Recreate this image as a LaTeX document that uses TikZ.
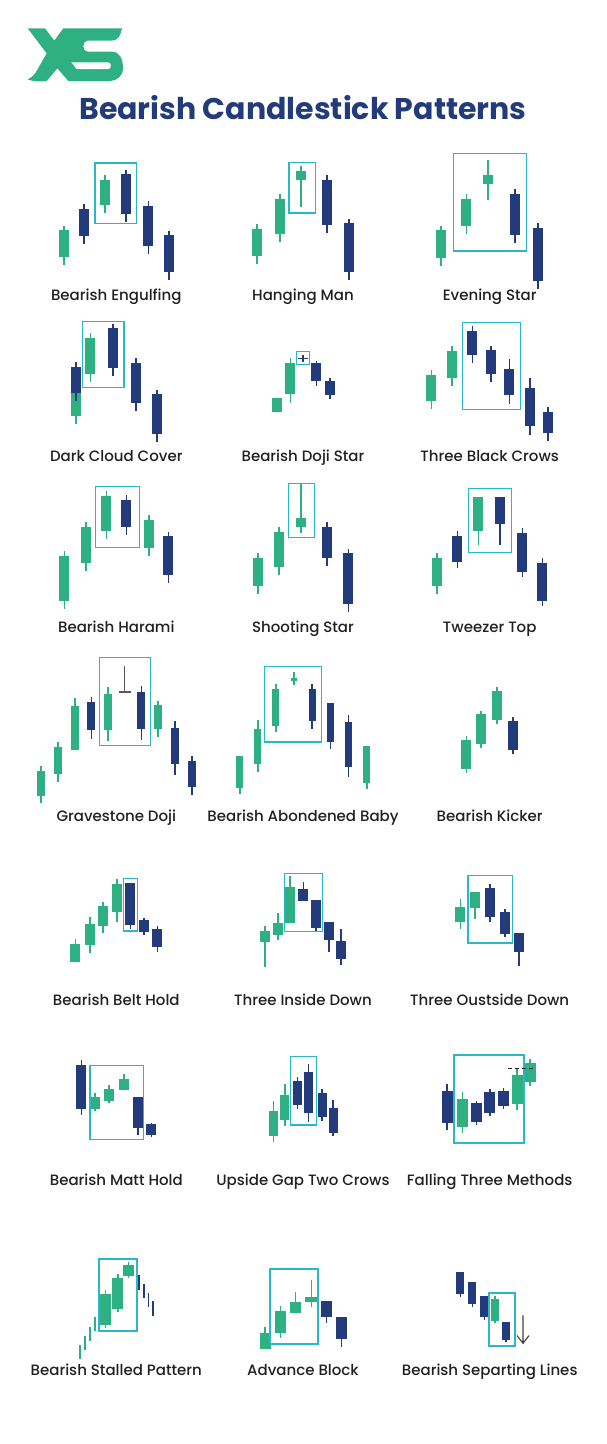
\documentclass[tikz,border=0pt]{standalone}
\usepackage{fontspec}
\setmainfont{Poppins}
\newfontfamily\lblfont{Poppins Medium}
\definecolor{xsgreen}{HTML}{2FB083}
\definecolor{xsnavy}{HTML}{233B7A}
\definecolor{xsteal}{HTML}{2BB8C6}
\definecolor{xstext}{HTML}{231F20}
\tikzset{
 up/.style={fill=xsgreen},
 dn/.style={fill=xsnavy},
 patbox/.style={draw=xsteal,line width=1.1pt},
 patboxb/.style={draw=xsteal,line width=1.8pt},
 lbl/.style={anchor=base,font=\lblfont\fontsize{15}{17}\selectfont,text=xstext,inner sep=0pt},
 ttl/.style={anchor=base,font=\bfseries\fontsize{30}{33}\selectfont,text=xsnavy,inner sep=0pt}
}
% style, x, body top, body bottom, wick top, wick bottom, half width
\newcommand\cdl[7]{\fill[#1] ({#2-0.8},#5) rectangle ({#2+0.8},#6);\fill[#1] ({#2-#7},#3) rectangle ({#2+#7},#4);}
\newcommand\tick[4]{\fill[#1] ({#2-0.8},#3) rectangle ({#2+0.8},#4);}
\begin{document}
\begin{tikzpicture}[x=1pt,y=-1pt]
\useasboundingbox (0,0) rectangle (606,1444);
% logo
\begin{scope}[x=0.33333pt,y=-0.33333pt]
\fill[xsgreen] (83,85) -- (135,85) -- (163,122) -- (190,85) -- (366,85)
  .. controls (362,105) and (355,122) .. (335,122) -- (262,122)
  .. controls (246,122) and (246,155) .. (262,155) -- (335,155)
  .. controls (358,155) and (369,175) .. (369,205)
  .. controls (369,228) and (350,243) .. (330,243) -- (205,243) -- (172,205) -- (140,243)
  .. controls (120,246) and (100,245) .. (83,238)
  .. controls (100,232) and (110,215) .. (120,195) -- (140,160) -- cycle;
\fill[white] (214,187) -- (325,187) .. controls (335,187) and (335,207) .. (325,207) -- (230,207) -- cycle;
\end{scope}
\node[ttl] (title) at (303,119) {Bearish Candlestick Patterns};
% Bearish Engulfing
\cdl{up}{63.7}{230}{257}{226}{265}{5}
\cdl{dn}{84}{208.7}{235.7}{204}{243.7}{5}
\cdl{up}{104.7}{180}{205}{175.3}{213}{5}
\cdl{dn}{125.7}{174}{214}{169.7}{222.3}{5}
\cdl{dn}{148.3}{206}{246}{201}{253.7}{5}
\cdl{dn}{168.7}{235.3}{272.3}{230.7}{280.3}{5}
\draw[patbox] (95,163) rectangle (136.3,223.7);
\node[lbl] (l1) at (116.3,300) {Bearish Engulfing};
% Hanging Man
\cdl{up}{257}{228.7}{255.7}{224}{263.7}{5}
\cdl{up}{279.7}{199}{234}{194}{242}{5}
\cdl{up}{301}{171}{180}{166.3}{207}{5}
\cdl{dn}{327}{180}{225}{175.3}{233}{5}
\cdl{dn}{348.7}{223.3}{272.3}{218.7}{280.3}{5}
\draw[patbox] (289,162.7) rectangle (315.7,213);
\node[lbl] (l2) at (303,300) {Hanging Man};
% Evening Star
\cdl{up}{441}{230.3}{257.7}{225.7}{265.7}{5}
\cdl{up}{466.3}{198.7}{225.7}{194}{234}{5}
\cdl{up}{488}{175.3}{184.3}{160}{199.7}{5}
\cdl{dn}{515}{193.7}{235.3}{189.3}{243.3}{5}
\cdl{dn}{538}{228.3}{281}{223.3}{289}{5}
\draw[patbox] (453.3,153.7) rectangle (526.7,251);
\node[lbl] (l3) at (489.7,300) {Evening Star};
% Dark Cloud Cover
\cdl{up}{76}{393}{416}{393}{424}{5}
\cdl{dn}{76}{366.7}{393.3}{362}{401}{5}
\cdl{up}{90.3}{338}{373.7}{333.3}{381.7}{5}
\cdl{dn}{113}{328.3}{368.3}{324}{376.3}{5}
\cdl{dn}{136}{363}{402.7}{358.3}{410.7}{5}
\cdl{dn}{156.7}{394.3}{434.3}{389.7}{442.3}{5}
\draw[patbox] (82.3,321.7) rectangle (124,387.3);
\node[lbl] (l4) at (116.3,461) {Dark Cloud Cover};
% Bearish Doji Star
\fill[up] (271.7,398.3) rectangle (281.7,412.3);
\cdl{up}{290.3}{363.3}{394}{358.3}{402.7}{5}
\cdl{dn}{303}{357.5}{358.7}{354.5}{362}{4.7}
\cdl{dn}{316.3}{363}{380.7}{361}{385.7}{5}
\cdl{dn}{329.7}{380.7}{395.3}{378.3}{399.3}{5}
\draw[patbox] (296.3,351.7) rectangle (309.7,364.3);
\node[lbl] (l5) at (303,461) {Bearish Doji Star};
% Three Black Crows
\cdl{up}{431.3}{374.7}{401.3}{370.3}{409.3}{5}
\cdl{up}{451.7}{350.7}{377.7}{346}{385.7}{5}
\cdl{dn}{472.3}{330.7}{354.7}{326}{362.7}{5}
\cdl{dn}{491}{350.3}{374}{345.7}{382}{5}
\cdl{dn}{509.3}{368.7}{395.3}{359}{404.3}{5}
\cdl{dn}{530}{388.3}{426}{378.3}{435}{5}
\cdl{dn}{548}{411.7}{433.3}{407.3}{441.3}{5}
\draw[patbox] (462.7,322.3) rectangle (520.7,409.3);
\node[lbl] (l6) at (489.7,461) {Three Black Crows};
% Bearish Harami
\cdl{up}{64.3}{556}{600.7}{551.3}{608.7}{5}
\cdl{up}{85.7}{527}{562.7}{522.3}{570.7}{5}
\cdl{up}{106.3}{495.7}{531.3}{491}{539.3}{5}
\cdl{dn}{126.3}{500}{527}{495.3}{535}{5}
\cdl{up}{149}{519.7}{547.7}{515}{555.7}{5}
\cdl{dn}{168.3}{536.3}{575}{531.7}{583}{5}
\draw[patbox] (95.3,486.7) rectangle (139.7,547.3);
\node[lbl] (l7) at (116.3,632) {Bearish Harami};
% Shooting Star
\cdl{up}{257.7}{558}{585.7}{553.3}{593.7}{5}
\cdl{up}{278.7}{531.7}{567.3}{527}{575.3}{5}
\cdl{up}{301}{518}{527.3}{483.3}{533}{5}
\cdl{dn}{327}{527}{557.7}{522}{565.7}{5}
\cdl{dn}{348.3}{553.3}{604}{548.7}{612}{5}
\draw[patbox] (288.3,483.3) rectangle (314.7,537.3);
\node[lbl] (l8) at (303,632) {Shooting Star};
% Tweezer Top
\cdl{up}{437}{558}{585.7}{553.3}{593.7}{5}
\cdl{dn}{457.3}{536}{562.3}{531}{567.7}{5}
\cdl{up}{478.3}{496.7}{530.7}{496.7}{544.7}{5}
\cdl{dn}{500}{496.7}{524}{496.7}{544.7}{5}
\cdl{dn}{522.3}{533}{571.7}{528.3}{576.7}{5}
\cdl{dn}{542.3}{563}{601.3}{558}{606.3}{5}
\draw[patbox] (468.3,488.7) rectangle (511.3,552.3);
\node[lbl] (l9) at (489.7,632) {Tweezer Top};
% Gravestone Doji
\cdl{up}{41}{770.7}{795.7}{766.3}{803}{4}
\cdl{up}{58}{746.7}{774}{742}{782}{4}
\cdl{up}{74.7}{705.7}{749.7}{698}{749.7}{4}
\cdl{dn}{91.3}{702.3}{730.3}{697.3}{738.7}{4}
\cdl{up}{108}{693.7}{730.3}{687.3}{741.3}{4}
\fill[black!65] (124,666.3) rectangle (125.4,692.6);
\fill[black!65] (119.3,691.4) rectangle (130.7,692.6);
\cdl{dn}{141.3}{692.3}{729.3}{686.3}{740.3}{4}
\cdl{up}{158}{705.3}{729}{701}{736.7}{4}
\cdl{dn}{175}{727.7}{764}{721}{774.7}{4}
\cdl{dn}{191.7}{761}{786.7}{756.3}{794.7}{4}
\draw[patbox] (99.3,657.3) rectangle (150.7,745.7);
\node[lbl] (l10) at (116.3,821) {Gravestone Doji};
% Bearish Abondened Baby
\cdl{up}{239.7}{756}{787.7}{756}{793.7}{3.5}
\cdl{up}{257.7}{729.3}{763.7}{720}{772.3}{3.5}
\cdl{up}{275.7}{689}{725.7}{684}{732}{3.5}
\cdl{up}{293.7}{677.7}{680.7}{672.3}{685}{3.2}
\cdl{dn}{312}{689}{720.7}{684}{729}{3.5}
\cdl{dn}{330.3}{703.3}{742}{703.3}{748.7}{3.5}
\cdl{dn}{348.3}{722}{766.7}{715}{777.3}{3.5}
\cdl{up}{366.7}{746}{782.7}{746}{789.3}{3.5}
\draw[patbox] (264.7,666.7) rectangle (321.3,742);
\node[lbl] (l11) at (303,821) {Bearish Abondened Baby};
% Bearish Kicker
\cdl{up}{466.3}{740}{768.7}{736}{772.7}{5}
\cdl{up}{481}{714.3}{743.7}{710.7}{747.7}{5}
\cdl{up}{497}{691}{720.3}{687.3}{724.3}{5}
\cdl{dn}{513}{720.7}{749.7}{717}{753.7}{5}
\node[lbl] (l12) at (489.7,821) {Bearish Kicker};
% Bearish Belt Hold
\cdl{up}{75.3}{944}{962}{939.3}{962}{5}
\cdl{up}{89.7}{924.3}{945}{917}{953}{5}
\cdl{up}{103}{905.7}{926.3}{902.3}{932.7}{5}
\cdl{up}{116.7}{884}{912}{878.7}{921.7}{5}
\cdl{dn}{130.3}{883}{925}{883}{929}{5}
\cdl{dn}{144}{920.3}{931.7}{918.3}{935.3}{5}
\cdl{dn}{157.3}{929}{947}{925.7}{952.3}{5}
\draw[patbox] (123.3,878.7) rectangle (137.3,931);
\node[lbl] (l13) at (116.3,1005) {Bearish Belt Hold};
% Three Inside Down
\cdl{up}{265}{931.3}{942.3}{925.7}{967}{5}
\cdl{up}{278}{923.3}{934.7}{913.3}{940.3}{5}
\cdl{up}{290}{887.3}{922.7}{876}{922.7}{5}
\cdl{dn}{303.3}{889.3}{900.7}{882.3}{900.7}{5}
\cdl{dn}{315.7}{900}{928}{900}{931}{5}
\cdl{dn}{329}{921.7}{939.7}{921.7}{952.3}{5}
\cdl{dn}{341}{941}{959}{929.3}{964.7}{5}
\draw[patbox] (284.3,873.7) rectangle (322.7,931.3);
\node[lbl] (l14) at (303,1005) {Three Inside Down};
% Three Oustside Down
\cdl{up}{460.3}{907.3}{921.7}{899}{928.7}{5}
\cdl{up}{474.7}{892.3}{907.7}{892.3}{918.7}{5}
\cdl{dn}{490}{888.3}{917.3}{884.3}{921.7}{5}
\cdl{dn}{504.7}{911.7}{934}{909}{937}{5}
\cdl{dn}{519}{932.7}{952}{932.7}{965.7}{5}
\draw[patbox] (468,875.3) rectangle (512.7,943);
\node[lbl] (l15) at (489.7,1005) {Three Oustside Down};
% Bearish Matt Hold
\cdl{dn}{81.3}{1065.3}{1108.7}{1060}{1114.7}{5}
\cdl{up}{95}{1097.3}{1108.7}{1093}{1110.7}{5}
\cdl{up}{109}{1089.3}{1100.7}{1085}{1103}{5}
\cdl{up}{123.7}{1078.7}{1090}{1074}{1090}{5}
\cdl{dn}{138}{1096.7}{1128.3}{1096.7}{1135}{5}
\cdl{dn}{151.3}{1124.3}{1135.3}{1123}{1137}{5}
\draw[patbox] (90,1065.3) rectangle (143.7,1139.3);
\node[lbl] (l16) at (116.3,1185) {Bearish Matt Hold};
% Upside Gap Two Crows
\cdl{up}{273.3}{1111.3}{1135.7}{1100.7}{1142}{4.5}
\cdl{up}{284.7}{1095.3}{1119.7}{1084.3}{1125.7}{4.5}
\cdl{dn}{297.3}{1081}{1105.3}{1077.3}{1109.3}{4.5}
\cdl{dn}{308.3}{1072.3}{1113}{1064.3}{1121.7}{4.5}
\cdl{dn}{322}{1092.7}{1117.3}{1089.3}{1120.7}{4.5}
\cdl{dn}{333}{1108.3}{1132.7}{1100.3}{1135.7}{4.5}
\draw[patbox] (290.3,1056.7) rectangle (316.3,1125);
\node[lbl] (l17) at (303,1185) {Upside Gap Two Crows};
% Falling Three Methods
\cdl{dn}{447}{1090.7}{1123.3}{1084.3}{1130}{5.5}
\cdl{up}{462.3}{1098.7}{1126.7}{1092}{1133.3}{5.5}
\cdl{dn}{476.3}{1103}{1122.3}{1100.7}{1125}{5.5}
\cdl{dn}{489.7}{1092}{1112.7}{1089.3}{1116}{5.5}
\cdl{dn}{503.3}{1091.3}{1106.3}{1088.3}{1109}{5.5}
\cdl{up}{517}{1074.7}{1104.3}{1068.7}{1110}{5.5}
\cdl{up}{530}{1063.3}{1082}{1059.3}{1085.7}{5.5}
\draw[patboxb] (454,1055.3) rectangle (524.3,1143.3);
\coordinate (d1) at (508,1068.3);
\coordinate (d2) at (535.7,1068.3);
\draw[black!85,line width=0.6pt,dash pattern=on 4pt off 3pt] (d1) -- (d2);
\node[lbl] (l18) at (489.7,1185) {Falling Three Methods};
% Bearish Stalled Pattern
\tick{up}{80}{1344.7}{1358.7}
\tick{up}{85}{1336}{1350}
\tick{up}{90}{1326.7}{1340.7}
\tick{up}{95}{1317.3}{1331.3}
\cdl{up}{105.3}{1294}{1324.7}{1290.3}{1327.7}{5.5}
\cdl{up}{117.7}{1278}{1308.7}{1274.3}{1311.7}{5.5}
\cdl{up}{128.3}{1264.7}{1275.7}{1262.3}{1277.7}{5.5}
\tick{dn}{138.7}{1275.3}{1289.7}
\tick{dn}{143.7}{1284}{1298.3}
\tick{dn}{148.3}{1292.7}{1307}
\tick{dn}{153}{1301.3}{1315.7}
\draw[patboxb] (98.7,1258.7) rectangle (137,1330.7);
\node[lbl] (l19) at (116.3,1375) {Bearish Stalled Pattern};
% Advance Block
\cdl{up}{265}{1333}{1349}{1326.7}{1349}{5.5}
\cdl{up}{280.3}{1311.3}{1333}{1306}{1338.3}{5.5}
\cdl{up}{295.3}{1301.7}{1312.7}{1292}{1312.7}{5.5}
\cdl{up}{311.3}{1297.3}{1302.3}{1280}{1306.7}{6}
\cdl{dn}{326.3}{1301.3}{1317.3}{1301.3}{1323.3}{5.5}
\cdl{dn}{341.3}{1316.7}{1338.7}{1316.7}{1347.3}{5.5}
\draw[patboxb] (270.3,1268.7) rectangle (318.3,1343.7);
\node[lbl] (l20) at (303,1375) {Advance Block};
% Bearish Separting Lines
\cdl{dn}{460.3}{1272.3}{1293.7}{1272.3}{1296.7}{4}
\cdl{dn}{472.3}{1282.3}{1303.7}{1282.3}{1306.7}{4}
\cdl{dn}{484.3}{1295.7}{1317}{1295.7}{1320}{4}
\cdl{up}{495}{1299.3}{1321.3}{1296}{1323}{4.3}
\cdl{dn}{505.7}{1321.7}{1340}{1321.7}{1342.3}{4}
\draw[patboxb] (489.3,1293.3) rectangle (514.7,1346);
\coordinate (a1) at (523,1315.3);
\coordinate (a2) at (523,1343.3);
\coordinate (a3) at (517,1335.5);
\coordinate (a4) at (529,1335.5);
\draw[black!75,line width=1.1pt] (a1) -- (a2) (a3) -- (a2) -- (a4);
\node[lbl] (l21) at (489.7,1375) {Bearish Separting Lines};
\end{tikzpicture}
\end{document}
